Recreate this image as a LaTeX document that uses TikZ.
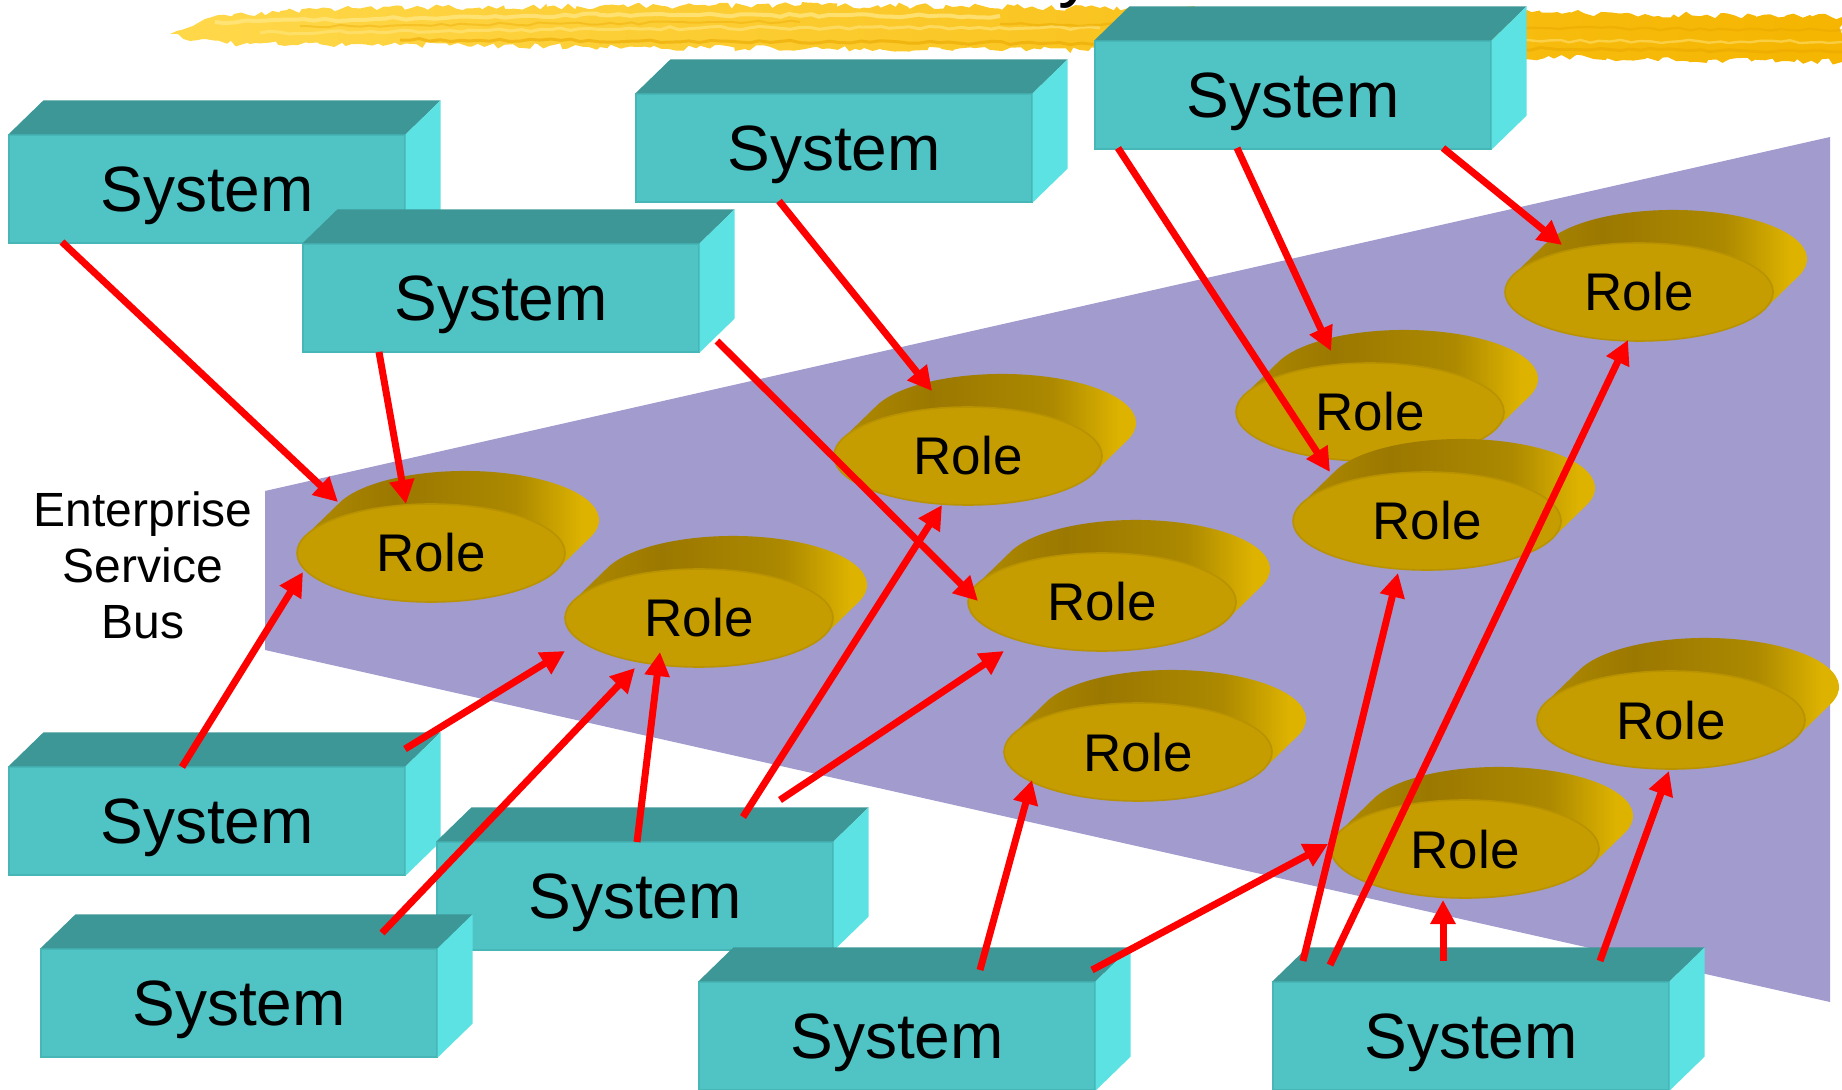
\documentclass[tikz,border=0pt]{standalone}
\usepackage{fontspec}
\setmainfont{Liberation Sans}
\usetikzlibrary{arrows.meta,calc,shapes.geometric,decorations.pathmorphing}

\definecolor{cBus}{HTML}{A19BCE}
\definecolor{cSysFront}{HTML}{50C4C4}
\definecolor{cSysTop}{HTML}{3D9797}
\definecolor{cSysSide}{HTML}{5CE2E2}
\definecolor{cSysEdge}{HTML}{47B6B6}
\definecolor{cRoleFront}{HTML}{C59D00}
\definecolor{cRoleRim}{HTML}{B89200}
\definecolor{cRoleL}{HTML}{B48F00}
\definecolor{cRoleM}{HTML}{9B7800}
\definecolor{cRoleM2}{HTML}{AC8900}
\definecolor{cRoleR}{HTML}{DEB300}
\definecolor{cArrow}{HTML}{FF0000}
\definecolor{cBanL}{HTML}{FFD84A}
\definecolor{cBanM}{HTML}{FFCB22}
\definecolor{cBanR}{HTML}{F5B500}
\definecolor{cBanHi}{HTML}{FFE680}
\definecolor{cBanLo}{HTML}{EBA900}

% side of a disc: light at the left rim, darkest on top, bright at the right end
\pgfdeclarehorizontalshading{discside}{100bp}{%
  color(0bp)=(cRoleL); color(25bp)=(cRoleL); color(42bp)=(cRoleM);
  color(60bp)=(cRoleM2); color(70bp)=(cRoleR); color(75bp)=(cRoleR); color(100bp)=(cRoleR)}

% a 3D box: front face is the named node, top and right faces drawn behind its corners
\newcommand\sysbox[3]{%
  \node[sysface] (#1) at (#2,#3) {System};
  \fill[cSysTop] (#1.north west) -- ++(35,-34) -- ([shift={(35,-34)}]#1.north east) -- (#1.north east) -- cycle;
  \fill[cSysSide] (#1.north east) -- ++(35,-34) -- ([shift={(35,-34)}]#1.south east) -- (#1.south east) -- cycle;
}

% an extruded disc: shaded side hull, then the named front ellipse
\newcommand\roledisc[3]{%
  \shade[shading=discside] (#2-91.4,#3-50.3)
     arc[start angle=200.64, end angle=380.64, x radius=134, y radius=49]
     -- (#2+125.4,#3+17.3)
     arc[start angle=20.64, end angle=200.64, x radius=134, y radius=49] -- cycle;
  \node[roleface] (#1) at (#2,#3) {Role};
}

\begin{document}
\begin{tikzpicture}[x=0.5pt,y=-0.5pt,
  sysface/.style={rectangle, minimum width=198pt, minimum height=54pt, inner sep=0pt,
    fill=cSysFront, draw=cSysEdge, line width=0.6pt,
    font=\fontsize{32}{38}\selectfont, text height=22.9pt, text depth=0pt},
  roleface/.style={ellipse, minimum width=134pt, minimum height=49pt, inner sep=0pt,
    fill=cRoleFront, draw=cRoleRim, line width=0.8pt,
    font=\fontsize{26.5}{32}\selectfont, text height=19pt, text depth=0pt},
  arr/.style={draw=cArrow, line width=3.5pt, -{Triangle[length=12pt,width=12pt]}},
  streak/.style={line width=#1, decorate, decoration={random steps, segment length=5pt, amplitude=0.8pt}},
]
\useasboundingbox (0,0) rectangle (1842,1090);
\pgfmathsetseed{11}

% the bus plane
\fill[cBus] (265,491) -- (1830,137) -- (1830,1002) -- (265,650) -- cycle;

% brush-stroke banner along the top
\shade[left color=cBanL, middle color=cBanM, right color=cBanR,
  decorate, decoration={random steps, segment length=3pt, amplitude=1.6pt}]
  (170,34) -- (205,19) -- (280,11) -- (352,8) -- (600,6) -- (822,5) -- (1100,8)
  -- (1400,11) -- (1645,14) -- (1842,17) -- (1842,62) -- (1645,59) -- (1400,55)
  -- (1100,50) -- (822,49) -- (600,47) -- (352,44) -- (250,44) -- (190,41) -- cycle;
\draw[cBanHi, opacity=0.8, streak=2pt] (215,22) -- (600,15) -- (1000,16);
\draw[cBanHi, opacity=0.6, streak=1.5pt] (260,33) -- (700,28) -- (1100,28);
\draw[cBanLo, opacity=0.6, streak=1.5pt] (400,40) -- (900,42) -- (1842,52);
\draw[cBanLo, opacity=0.5, streak=1.2pt] (1000,24) -- (1842,30);
\draw[cBanHi, opacity=0.5, streak=1.2pt] (1300,40) -- (1842,42);
\draw[cBanLo, opacity=0.4, streak=1pt] (300,26) -- (800,22);

% tail of the heading above the frame
\node[font=\fontsize{36}{40}\selectfont, anchor=base west, inner sep=0pt] (head) at (1058,-6) {y};

% bus label
\node[align=center, font=\fontsize{24}{28}\selectfont, inner sep=0pt] (esb) at (143,565)
  {Enterprise\\Service\\Bus};

% roles, back to front
\roledisc{r8}{1639}{292}
\roledisc{r6}{1370}{412}
\roledisc{r1}{431}{553}
\roledisc{r3}{968}{456}
\roledisc{r7}{1427}{521}
\roledisc{r4}{1102}{602}
\roledisc{r2}{699}{618}
\roledisc{r9}{1671}{720}
\roledisc{r5}{1138}{752}
\roledisc{r10}{1465}{849}

% systems
\sysbox{s4}{1293}{95}
\sysbox{s3}{834}{148}
\sysbox{s1}{207}{189}
\sysbox{s2}{501}{298}
\sysbox{s5}{207}{821}
\sysbox{s6}{635}{896}
\sysbox{s7}{239}{1003}
\sysbox{s8}{897}{1036}
\sysbox{s9}{1471}{1036}

% connections
\draw[arr] ($(s1)+(-145,53)$) -- ($(r1)+(-93,-51)$);
\draw[arr] ($(s2)+(-122,54)$) -- ($(r1)+(-25,-49)$);
\draw[arr] ($(s3)+(-55,53)$) -- ($(r3)+(-36,-65)$);
\draw[arr] ($(s2)+(216,43)$) -- ($(r4)+(-124,-1)$);
\draw[arr] ($(s4)+(-175,53)$) -- ($(r7)+(-97,-49)$);
\draw[arr] ($(s4)+(-56,53)$) -- ($(r6)+(-39,-61)$);
\draw[arr] ($(s4)+(150,53)$) -- ($(r8)+(-77,-47)$);
\draw[arr] ($(s5)+(-25,-54)$) -- ($(r1)+(-128,19)$);
\draw[arr] ($(s5)+(198,-72)$) -- ($(r2)+(-134,33)$);
\draw[arr] ($(s7)+(143,-70)$) -- ($(r2)+(-64,50)$);
\draw[arr] ($(s6)+(2,-54)$) -- ($(r2)+(-39,34)$);
\draw[arr] ($(s6)+(108,-79)$) -- ($(r3)+(-26,49)$);
\draw[arr] ($(s6)+(145,-96)$) -- ($(r4)+(-98,49)$);
\draw[arr] ($(s8)+(83,-66)$) -- ($(r5)+(-106,28)$);
\draw[arr] ($(s8)+(195,-66)$) -- ($(r10)+(-137,-5)$);
\draw[arr] ($(s9)+(-168,-75)$) -- ($(r7)+(-29,52)$);
\draw[arr] ($(s9)+(-141,-71)$) -- ($(r8)+(-11,48)$);
\draw[arr] ($(s9)+(-28,-75)$) -- ($(r10)+(-22,51)$);
\draw[arr] ($(s9)+(129,-75)$) -- ($(r9)+(-2,51)$);
\end{tikzpicture}
\end{document}
